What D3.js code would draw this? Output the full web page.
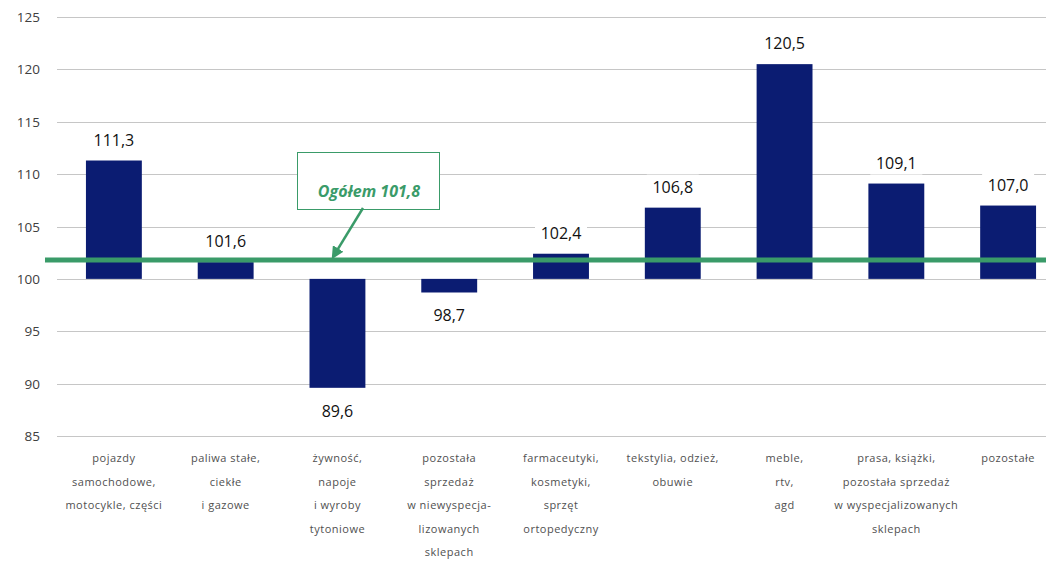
<!DOCTYPE html>
<html>
<head>
<meta charset="utf-8">
<script src="https://cdn.jsdelivr.net/npm/d3@7"></script>
<style>
  body { margin: 0; background: #fff; }
  text { font-family: "Open Sans", "Liberation Sans", sans-serif; }
</style>
</head>
<body>
<div id="chart"></div>
<script>
// data
var categories = [
  ["pojazdy", "samochodowe,", "motocykle, części"],
  ["paliwa stałe,", "ciekłe", "i gazowe"],
  ["żywność,", "napoje", "i wyroby", "tytoniowe"],
  ["pozostała", "sprzedaż", "w niewyspecja-", "lizowanych", "sklepach"],
  ["farmaceutyki,", "kosmetyki,", "sprzęt", "ortopedyczny"],
  ["tekstylia, odzież,", "obuwie"],
  ["meble,", "rtv,", "agd"],
  ["prasa, książki,", "pozostała sprzedaż", "w wyspecjalizowanych", "sklepach"],
  ["pozostałe"]
]
var values = [111.3, 101.6, 89.6, 98.7, 102.4, 106.8, 120.5, 109.1, 107.0]
var yTicks = [85, 90, 95, 100, 105, 110, 115, 120, 125]
var overall = 101.8
var overallLabel = "Ogółem 101,8"

var W = 1051, H = 570

var svg = d3.select("#chart").append("svg")
  .attr("width", W).attr("height", H)

var x = d3.scaleBand()
  .domain(d3.range(values.length))
  .range([58, 1064])
  .paddingInner(0.5)
  .paddingOuter(0.25)

var y = d3.scaleLinear()
  .domain([85, 125])
  .range([436, 17])

var fmt = function (v) { return d3.format(".1f")(v).replace(".", ",") }

// gridlines
svg.append("g").selectAll("line")
  .data(yTicks).enter()
  .append("line")
  .attr("x1", 57).attr("x2", 1046)
  .attr("y1", function (d) { return Math.round(y(d)) + 0.5 })
  .attr("y2", function (d) { return Math.round(y(d)) + 0.5 })
  .style("stroke", "#c6c6c6")
  .style("stroke-width", 1)

// y tick labels
svg.append("g").selectAll("text")
  .data(yTicks).enter()
  .append("text")
  .attr("x", 40)
  .attr("y", function (d) { return y(d) + 5 })
  .attr("text-anchor", "end")
  .style("font-size", "13.5px")
  .style("fill", "#404040")
  .text(function (d) { return d })

// bars (from 100)
svg.append("g").selectAll("rect")
  .data(values).enter()
  .append("rect")
  .attr("x", function (d, i) { return x(i) })
  .attr("width", x.bandwidth())
  .attr("y", function (d) { return y(Math.max(d, 100)) })
  .attr("height", function (d) { return Math.abs(y(d) - y(100)) })
  .style("fill", "#0b1c72")

// value labels with white background
var lab = svg.append("g").selectAll("g")
  .data(values).enter()
  .append("g")
  .attr("transform", function (d, i) {
    var cx = x(i) + x.bandwidth() / 2
    var cy = d >= 100 ? y(d) - 21 : y(d) + 23
    return "translate(" + cx + "," + cy + ")"
  })
lab.append("rect")
  .attr("x", -26).attr("y", -12).attr("width", 52).attr("height", 24)
  .style("fill", "#fff")
lab.append("text")
  .attr("text-anchor", "middle")
  .attr("y", 6)
  .style("font-size", "16px")
  .style("fill", "#111")
  .text(function (d) { return fmt(d) })

// category labels
svg.append("g").selectAll("text")
  .data(categories).enter()
  .append("text")
  .attr("text-anchor", "middle")
  .attr("transform", function (d, i) { return "translate(" + (x(i) + x.bandwidth() / 2) + ",462)" })
  .style("font-size", "11px")
  .style("letter-spacing", "0.5px")
  .style("fill", "#505050")
  .each(function (d) {
    d3.select(this).selectAll("tspan")
      .data(d).enter()
      .append("tspan")
      .attr("x", 0)
      .attr("dy", function (t, j) { return j === 0 ? 0 : 23.5 })
      .text(function (t) { return t })
  })

// overall line
var green = "#3a9b69"
svg.append("line")
  .attr("x1", 45).attr("x2", 1046)
  .attr("y1", y(overall)).attr("y2", y(overall))
  .style("stroke", green)
  .style("stroke-width", 5)

// annotation box + arrow
svg.append("defs").append("marker")
  .attr("id", "arrow")
  .attr("viewBox", "0 0 10 10")
  .attr("refX", 8).attr("refY", 5)
  .attr("markerWidth", 5).attr("markerHeight", 5)
  .attr("orient", "auto")
  .append("path")
  .attr("d", "M0,0 L10,5 L0,10 z")
  .style("fill", green)

svg.append("rect")
  .attr("x", 297.5).attr("y", 152.5).attr("width", 142).attr("height", 57)
  .style("fill", "#fff")
  .style("stroke", green)
  .style("stroke-width", 1)

svg.append("text")
  .attr("x", 369).attr("y", 197)
  .attr("text-anchor", "middle")
  .style("font-size", "16px")
  .style("font-weight", "bold")
  .style("font-style", "italic")
  .style("fill", green)
  .text(overallLabel)

svg.append("line")
  .attr("x1", 363).attr("y1", 208)
  .attr("x2", 333).attr("y2", y(overall) - 3)
  .style("stroke", green)
  .style("stroke-width", 2.5)
  .attr("marker-end", "url(#arrow)")
</script>
</body>
</html>
